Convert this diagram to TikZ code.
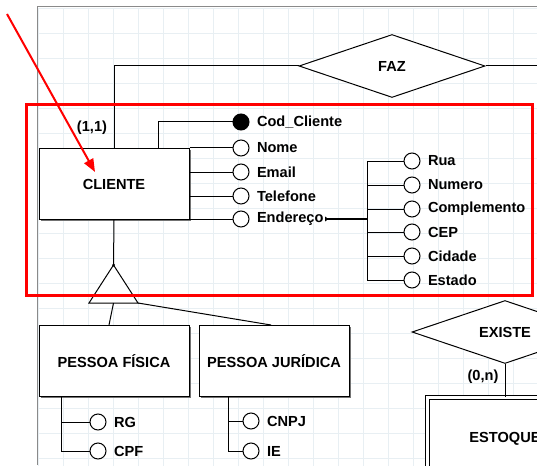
\documentclass[tikz,border=0pt]{standalone}
\usepackage{fontspec}
\setmainfont{Liberation Sans}
\usetikzlibrary{shapes.geometric,shadows,arrows.meta}
\definecolor{gridblue}{HTML}{E8EFF3}
\definecolor{framegray}{HTML}{8A8A8A}
\begin{document}
\begin{tikzpicture}[x=1pt,y=-1pt,line width=1pt,
		font=\fontsize{14.6}{17}\selectfont\bfseries,
		entity/.style={draw,fill=white,minimum width=150pt,minimum height=71pt,inner sep=0pt,
			drop shadow={shadow xshift=1.5pt,shadow yshift=-1.5pt,fill=black!55,opacity=1}},
		relation/.style={draw,fill=white,diamond,minimum width=186pt,minimum height=63pt,inner sep=0pt},
		attr/.style={draw,fill=white,circle,minimum size=16pt,inner sep=0pt},
		keyattr/.style={attr,fill=black},
		every label/.style={inner sep=0pt,xshift=7pt}]
		\clip (0,0) rectangle (537,465);
		\fill[white] (0,0) rectangle (537,465);
		\draw[gridblue,line width=0.8pt,shift={(38,8)},step=25pt] (0,460) grid (500,0);
		\draw[framegray] (37,465) -- (37,7) -- (537,7);

		\node[relation] (faz) at (392,66) {FAZ};
		\coordinate (fazright) at (540,66);
		\node[entity] (cliente) at (114,184) {CLIENTE};
		\node (card11) at (92,128) {(1,1)};
		\draw (cliente.north) |- (faz.west);
		\draw (faz.east) -- (fazright);

		\node[keyattr,label={right:Cod\_Cliente}] (cod) at (241,122) {};
		\node[attr,label={right:Nome}] (nome) at (241,148) {};
		\node[attr,label={right:Email}] (email) at (241,172) {};
		\node[attr,label={right:Telefone}] (telefone) at (241,196) {};
		\node[attr,label={[name=enderecotxt]right:Endereço}] (endereco) at (241,219) {};
		\draw ([xshift=44pt]cliente.north) |- (cod.west);
		\draw (cliente.north east) -- (nome.west);
		\draw (cliente.east |- email.west) -- (email.west);
		\draw (cliente.east |- telefone.west) -- (telefone.west);
		\draw (cliente.east |- endereco.west) -- (endereco.west);

		\coordinate (trunk) at (367,219);
		\node[attr,label={right:Rua}] (rua) at (412,161) {};
		\node[attr,label={right:Numero}] (numero) at (412,185) {};
		\node[attr,label={right:Complemento}] (complemento) at (412,209) {};
		\node[attr,label={right:CEP}] (cep) at (412,232) {};
		\node[attr,label={right:Cidade}] (cidade) at (412,256) {};
		\node[attr,label={right:Estado}] (estado) at (412,280) {};
		\draw[line width=1.6pt,{Triangle[reversed,length=3pt,width=5pt]}-] ([xshift=1pt]enderecotxt.east) -- (trunk);
		\draw (trunk |- rua.west) -- (trunk |- estado.west);
		\draw (trunk |- rua.west) -- (rua.west);
		\draw (trunk |- numero.west) -- (numero.west);
		\draw (trunk |- complemento.west) -- (complemento.west);
		\draw (trunk |- cep.west) -- (cep.west);
		\draw (trunk |- cidade.west) -- (cidade.west);
		\draw (trunk |- estado.west) -- (estado.west);

		\coordinate (isatop) at (113.5,265);
		\coordinate (isaleft) at (89,303);
		\coordinate (isaright) at (138,303);
		\coordinate (isabase) at (113.5,303);
		\node[entity] (fisica) at (114,361) {PESSOA FÍSICA};
		\node[entity] (juridica) at (274,361) {PESSOA JURÍDICA};
		\draw (cliente.south) -- (isatop);
		\draw[fill=white] (isatop) -- (isaleft) -- (isaright) -- cycle;
		\fill (isatop) circle[radius=1.5pt];
		\draw (isabase) -- ([xshift=-5pt]fisica.north);
		\draw (isaright) -- ([xshift=-3pt]juridica.north);

		\coordinate (fisicatrunk) at ([xshift=23pt]fisica.south west);
		\node[attr,label={right:RG}] (rg) at (98,422) {};
		\node[attr,label={right:CPF}] (cpf) at (98,451) {};
		\draw (fisicatrunk) |- (cpf.west);
		\draw (fisicatrunk |- rg.west) -- (rg.west);

		\coordinate (juridicatrunk) at ([xshift=30pt]juridica.south west);
		\node[attr,label={right:CNPJ}] (cnpj) at (251,421) {};
		\node[attr,label={right:IE}] (ie) at (251,451) {};
		\draw (juridicatrunk) |- (ie.west);
		\draw (juridicatrunk |- cnpj.west) -- (cnpj.west);

		\node[relation] (existe) at (505,332) {EXISTE};
		\node (card0n) at (483,377) {(0,n)};
		\node[draw,double,double distance=3pt,fill=white,minimum width=155pt,minimum height=83pt,inner sep=0pt] (estoque) at (505,439) {ESTOQUE};
		\draw (existe.south) -- (estoque.north);

		\draw[red,line width=3pt] (26,105) rectangle (532,295);
		\coordinate (arrowstart) at (7,14);
		\coordinate (arrowtip) at (95,172);
		\draw[red,line width=2pt,-{Triangle[length=13pt,width=10pt]}] (arrowstart) -- (arrowtip);
	\end{tikzpicture}
\end{document}
